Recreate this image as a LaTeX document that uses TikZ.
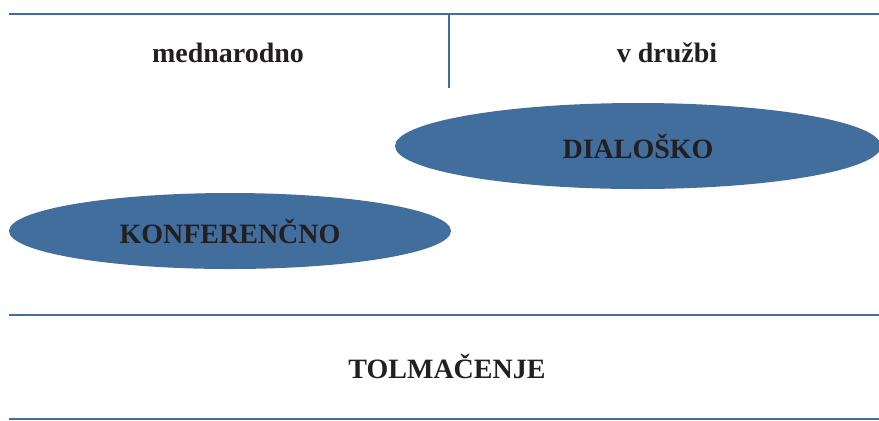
\documentclass[tikz,border=0pt]{standalone}
\usepackage{fontspec}
\setmainfont{Liberation Serif}
\usepackage{tikz}
\usetikzlibrary{shapes,positioning}
\definecolor{steel}{RGB}{66,110,158}
\definecolor{ink}{RGB}{35,31,32}
\tikzstyle{blob} = [ellipse, fill=steel, inner sep=0pt, text=ink,
    font=\fontsize{14}{16}\selectfont\bfseries]
\tikzstyle{lab} = [anchor=base, text=ink, inner sep=0pt,
    font=\fontsize{14}{16}\selectfont\bfseries]
\tikzstyle{rule} = [steel, line width=1.3pt]

\begin{document}
\begin{tikzpicture}[x=0.5pt, y=-0.5pt]
  \useasboundingbox (0,0) rectangle (879,420);
  % Lines
  \draw [rule] (9,14) -- (879,14);
  \draw [rule] (449,14) -- (449,88);
  \draw [rule] (9,315) -- (879,315);
  \draw [rule] (9,419) -- (879,419);
  % Place nodes
  \node [lab] (med) at (228,62) {mednarodno};
  \node [lab] (druz) at (667,62) {v družbi};
  \node [blob, minimum width=243pt, minimum height=43pt] (dia) at (638,146) {DIALOŠKO};
  \node [blob, minimum width=221pt, minimum height=38pt] (konf) at (230,231) {KONFERENČNO};
  \node [lab] (tolm) at (447,378) {TOLMAČENJE};
\end{tikzpicture}
\end{document}
